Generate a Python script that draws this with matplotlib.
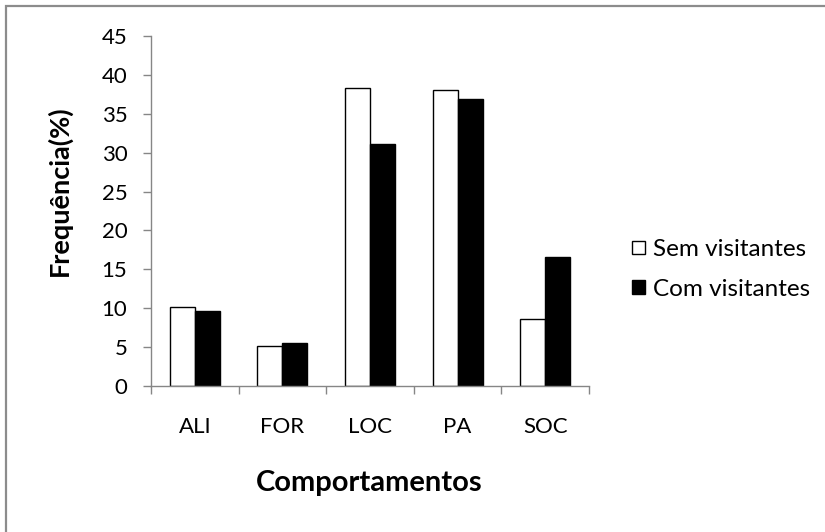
import matplotlib
matplotlib.use("Agg")
import matplotlib.pyplot as plt
import numpy as np
from matplotlib.patches import Rectangle

plt.rcParams["font.family"] = ["Lato", "DejaVu Sans"]

##### dados

comportamentos = ["ALI", "FOR", "LOC", "PA", "SOC"]
sem_visitantes = [10.2, 5.1, 38.3, 38.0, 8.6]
com_visitantes = [9.7, 5.5, 31.1, 36.9, 16.6]
yticks = [0, 5, 10, 15, 20, 25, 30, 35, 40, 45]

##### grafico

fig = plt.figure(figsize=(8.25, 5.32), dpi=100)
ax = fig.add_axes([0.183, 0.2744, 0.531, 0.658])

x = np.arange(len(comportamentos))
w = 0.285
b1 = ax.bar(x - w / 2, sem_visitantes, w, color="white", edgecolor="black",
            linewidth=1.0, label="Sem visitantes")
b2 = ax.bar(x + w / 2, com_visitantes, w, color="black", edgecolor="black",
            linewidth=1.0, label="Com visitantes")

ax.set_xlim(-0.5, len(comportamentos) - 0.5)
ax.set_ylim(0, 45)
ax.set_yticks(yticks)
ax.set_yticklabels([str(v) for v in yticks])

# ticks nas divisoes das categorias, rotulos no centro
ax.set_xticks(np.arange(len(comportamentos) + 1) - 0.5)
ax.set_xticklabels([])
ax.set_xticks(x, minor=True)
ax.set_xticklabels(comportamentos, minor=True)

gray = "#868686"
for s in ["top", "right"]:
    ax.spines[s].set_visible(False)
for s in ["left", "bottom"]:
    ax.spines[s].set_color(gray)
    ax.spines[s].set_linewidth(1.0)

ax.tick_params(axis="both", which="major", direction="out", length=6,
               color=gray, width=1.0, labelsize=16)
ax.tick_params(axis="y", pad=11)
ax.tick_params(axis="x", which="minor", length=0, pad=22, labelsize=16)

fig.text(0.0715, 0.641, "Frequência(%)", rotation=90, fontsize=19.5,
         fontweight="bold", ha="center", va="center")
fig.text(0.448, 0.092, "Comportamentos", fontsize=21, fontweight="bold",
         ha="center", va="center")

leg = fig.legend(handles=[b1, b2], loc="upper left",
                 bbox_to_anchor=(0.766, 0.55), frameon=False, fontsize=17.5,
                 handlelength=0.55, handleheight=0.45, handletextpad=0.33,
                 labelspacing=0.75, borderpad=0, borderaxespad=0)

# moldura da area do grafico (so aparece em cima e a esquerda)
fig.patches.append(Rectangle((0.0075, -0.1), 1.2, 1.088,
                             transform=fig.transFigure, fill=False,
                             edgecolor="#8c8c8c", linewidth=1.6))

fig.savefig("out.png", dpi=100)
